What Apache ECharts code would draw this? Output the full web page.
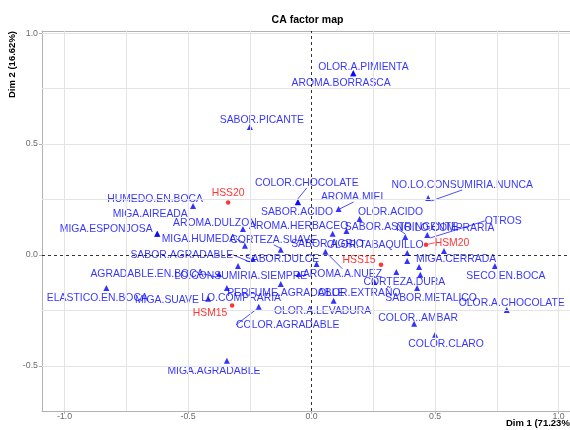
<!DOCTYPE html>
<html><head><meta charset="utf-8">
<script src="https://cdn.jsdelivr.net/npm/echarts@6/dist/echarts.min.js"></script>
<style>html,body{margin:0;padding:0;background:#fff}#c{width:570px;height:430px}</style>
</head><body><div id="c"></div>
<script>
// ---------- data ----------
const colNames = ['OLOR.A.PIMIENTA','AROMA.BORRASCA','SABOR.PICANTE','COLOR.CHOCOLATE','NO.LO.CONSUMIRIA.NUNCA',
  'AROMA.MIEL','HUMEDO.EN.BOCA','SABOR.ACIDO','OLOR.ACIDO','MIGA.AIREADA',
  'AROMA.DULZON','AROMA.HERBACEO','SABOR.ASTRINGENTE','NO.LO.COMPRARIA','OTROS',
  'MIGA.ESPONJOSA','MIGA.HUMEDA','CORTEZA.SUAVE','SABOR.AGRIO','OLOR.TABAQUILLO',
  'SABOR.AGRADABLE','SABOR.DULCE','MIGA.CERRADA','AROMA.A.NUEZ','SECO.EN.BOCA',
  'AGRADABLE.EN.BOCA','LO.CONSUMIRIA.SIEMPRE','CORTEZA.DURA','ELASTICO.EN.BOCA','MIGA.SUAVE',
  'LO.COMPRARIA','PERFUME.AGRADABLE','OLOR.EXTRAÑO','SABOR.METALICO','OLOR.A.CHOCOLATE',
  'OLOR.A.LEVADURA','COLOR.AGRADABLE','COLOR..AMBAR','COLOR.CLARO','MIGA.AGRADABLE'];
const colDim1 = [0.169,0.168,-0.250,-0.056,0.472,
  0.109,-0.480,-0.055,0.194,-0.625,
  -0.278,0.085,0.141,0.379,0.468,
  -0.625,-0.270,-0.125,0.020,0.387,
  -0.238,-0.298,0.536,0.056,0.742,
  -0.375,-0.052,0.254,-0.831,-0.343,
  -0.419,-0.125,0.343,0.427,0.790,
  0.089,-0.214,0.415,0.500,-0.343];
const colDim2 = [0.820,0.818,0.577,0.239,0.257,
  0.207,0.221,0.238,0.162,0.095,
  0.117,0.095,0.108,0.081,0.090,
  0.095,0.041,0.023,-0.041,0.009,
  -0.018,-0.050,0.018,0.014,-0.050,
  -0.086,-0.086,-0.122,-0.149,-0.149,
  -0.198,-0.131,-0.077,-0.149,-0.248,
  -0.207,-0.234,-0.311,-0.360,-0.477];
// column points whose labels are not shown
const extraDim1 = [0.387,0.435,0.440];
const extraDim2 = [-0.027,-0.054,-0.090];
const rowNames = ['HSS20','HSS15','HSM20','HSM15'];
const rowDim1 = [-0.338,0.281,0.463,-0.322];
const rowDim2 = [0.236,-0.044,0.046,-0.228];
const xTicks = [-1.0,-0.5,0.0,0.5,1.0];
const yTicks = [-0.5,0.0,0.5,1.0];
const xGrid = [-1.0,-0.75,-0.5,-0.25,0.25,0.5,0.75,1.0];
const yGrid = [-0.5,-0.25,0.25,0.5,0.75,1.0];
const xTitle = 'Dim 1 (71.23%)';
const yTitle = 'Dim 2 (16.62%)';
const chartTitle = 'CA factor map';

// ---------- layout (label displacements in px, repel-style) ----------
const colLabelOffset = [[10,-6],[-12,10],[12,-7],[9,-19],[34,-13],
  [15,-12],[-38,-7],[-1,10],[31,-7],[-7,-20],
  [-28,-6],[-34,-8],[55,-4],[40,-9],[76,-14],
  [-51,-5],[-46,-7],[-7,-10],[11,-20],[-32,-8],
  [-71,-4],[44,-7],[12,8],[17,22],[11,10],
  [-72,0],[-58,2],[30,0],[-9,10],[-60,12],
  [33,-1],[5,9],[-37,21],[14,10],[5,-7],
  [-11,10],[29,18],[4,-6],[11,9],[-13,10]];
const colWithLine = [3,4,5,13,14,16,17,20,23,25,36];
const rowLabelOffset = [[0,-9],[-22,-5],[26,-2],[-22,8]];
const rowWithLine = [2];

const X_MIN = -1.0915, X_MAX = 1.046, Y_MIN = -0.704, Y_MAX = 1.010;
const FONT = 'Liberation Sans, Arial, sans-serif';
const BORDER = '#b3b3b3';

const chart = echarts.init(document.getElementById('c'), null, {renderer:'canvas'});
const fmt = v => (Math.abs(v) < 1e-9 ? '0.0' : v.toFixed(1));

const gridLines = [].concat(
  xGrid.map(v => ({xAxis: v})),
  yGrid.map(v => ({yAxis: v}))
);

chart.setOption({
  animation: false,
  backgroundColor: '#fff',
  grid: {left: 42, right: 0, top: 31, bottom: 19, show: false},
  xAxis: [{
    type: 'value', min: X_MIN, max: X_MAX, position: 'bottom',
    axisLine: {show: true, onZero: false, lineStyle: {color: BORDER, width: 1}},
    splitLine: {show: false},
    axisTick: {show: true, length: 3, lineStyle: {color: BORDER}, customValues: xTicks},
    axisLabel: {customValues: xTicks, formatter: fmt, color: '#6b6b6b', fontSize: 8.8, fontFamily: FONT, margin: 1}
  }, {
    type: 'value', min: X_MIN, max: X_MAX, position: 'top',
    axisLine: {show: true, onZero: false, lineStyle: {color: BORDER, width: 1}},
    splitLine: {show: false}, axisTick: {show: false}, axisLabel: {show: false}
  }],
  yAxis: {
    type: 'value', min: Y_MIN, max: Y_MAX,
    axisLine: {show: true, onZero: false, lineStyle: {color: BORDER, width: 1}},
    splitLine: {show: false},
    axisTick: {show: true, length: 3, lineStyle: {color: BORDER}, customValues: yTicks},
    axisLabel: {customValues: yTicks, formatter: fmt, color: '#6b6b6b', fontSize: 8.8, fontFamily: FONT, margin: 4}
  },
  graphic: [
    {type: 'text', x: 307.5, y: 20, style: {text: chartTitle, align: 'center', verticalAlign: 'middle', font: 'bold 10.5px ' + FONT, fill: '#000'}},
    {type: 'text', x: 573, y: 423, style: {text: xTitle, align: 'right', verticalAlign: 'middle', font: 'bold 9.5px ' + FONT, fill: '#000'}},
    {type: 'text', x: 12, y: 31, rotation: Math.PI / 2, style: {text: yTitle, align: 'right', verticalAlign: 'middle', font: 'bold 9.5px ' + FONT, fill: '#000'}}
  ],
  series: [
    {
      type: 'scatter', data: [], z: 1, silent: true,
      markLine: {silent: true, symbol: 'none', label: {show: false}, animation: false,
        lineStyle: {color: '#e4e4e4', width: 1, type: 'solid'}, data: gridLines}
    },
    {
      type: 'scatter', data: [], z: 2, silent: true,
      markLine: {silent: true, symbol: 'none', label: {show: false}, animation: false,
        lineStyle: {color: '#000', width: 0.8, type: [3, 3]}, data: [{xAxis: 0}, {yAxis: 0}]}
    },
    {
      type: 'scatter', z: 3, symbol: 'triangle', symbolSize: 6,
      itemStyle: {color: '#0000ff'},
      data: extraDim1.map((x, i) => [x, extraDim2[i]])
    },
    {
      type: 'scatter', z: 4, symbol: 'triangle', symbolSize: 6,
      itemStyle: {color: '#0000ff'},
      data: colNames.map((n, i) => ({name: n, value: [colDim1[i], colDim2[i]],
        labelLine: {show: colWithLine.indexOf(i) >= 0}})),
      label: {show: true, position: 'inside', formatter: '{b}', color: '#0000ff', fontSize: 10.4, fontFamily: FONT},
      labelLayout: p => ({dx: colLabelOffset[p.dataIndex][0], dy: colLabelOffset[p.dataIndex][1], hideOverlap: false}),
      labelLine: {show: false, lineStyle: {color: '#0000ff', width: 0.7}, smooth: false}
    },
    {
      type: 'scatter', z: 5, symbol: 'circle', symbolSize: 4.5,
      itemStyle: {color: '#ff0000'},
      data: rowNames.map((n, i) => ({name: n, value: [rowDim1[i], rowDim2[i]],
        labelLine: {show: rowWithLine.indexOf(i) >= 0}})),
      label: {show: true, position: 'inside', formatter: '{b}', color: '#ff0000', fontSize: 10.4, fontFamily: FONT},
      labelLayout: p => ({dx: rowLabelOffset[p.dataIndex][0], dy: rowLabelOffset[p.dataIndex][1], hideOverlap: false}),
      labelLine: {show: false, lineStyle: {color: '#ff0000', width: 0.7}}
    }
  ]
});
</script></body></html>
